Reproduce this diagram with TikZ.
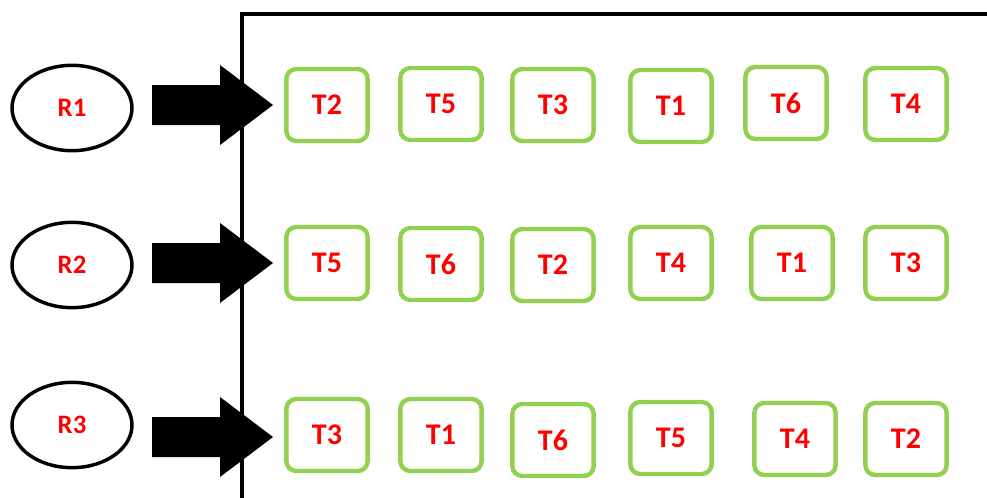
\documentclass[tikz,border=0pt]{standalone}
\usepackage{fontspec}
\setmainfont{Carlito}
\usetikzlibrary{shapes.geometric}
\definecolor{ink}{HTML}{000000}
\definecolor{taskgreen}{HTML}{92D050}
\definecolor{labelred}{HTML}{FF0000}
\tikzset{
  res/.style={ellipse, draw=ink, line width=2.6pt, minimum width=90pt, minimum height=64pt, inner sep=0pt, font=\fontsize{20}{24}\selectfont\bfseries, text=labelred},
  task/.style={draw=taskgreen, line width=3.3pt, rounded corners=7.5pt, minimum width=61pt, minimum height=54pt, inner sep=0pt, font=\fontsize{22.5}{26}\selectfont\bfseries, text=labelred},
  frame/.style={draw=ink, line width=3pt, line join=miter},
  bigarrow/.style={fill=ink},
}
\begin{document}
\begin{tikzpicture}[x=0.75pt, y=-0.75pt]
  \useasboundingbox (0,0) rectangle (987,497);

  % frame of the schedule area, cut by the page edge
  \draw[frame] (242,510) -- (242,14) -- (1000,14);

  % resources and their block arrows
  \foreach \n/\ey/\ay in {1/108/105, 2/265/263, 3/425/437} {
    \node[res] (r\n) at (72,\ey) {R\n};
    \fill[bigarrow] (152,\ay-20) -- (220,\ay-20) -- (220,\ay-40) -- (273,\ay)
      -- (220,\ay+40) -- (220,\ay+20) -- (152,\ay+20) -- cycle;
  }

  % tasks, row by row
  \foreach \x/\y/\lab/\name in {
      327/105/T2/a1, 441/104/T5/a2, 553/105/T3/a3, 671/106/T1/a4, 786/103/T6/a5, 906/104/T4/a6,
      327/263/T5/b1, 441/264/T6/b2, 553/265/T2/b3, 671/263/T4/b4, 792/263/T1/b5, 906/263/T3/b6,
      327/435/T3/c1, 441/435/T1/c2, 553/440/T6/c3, 671/438/T5/c4, 795/439/T4/c5, 906/439/T2/c6} {
    \node[task] (t\name) at (\x,\y) {\lab};
  }
\end{tikzpicture}
\end{document}
